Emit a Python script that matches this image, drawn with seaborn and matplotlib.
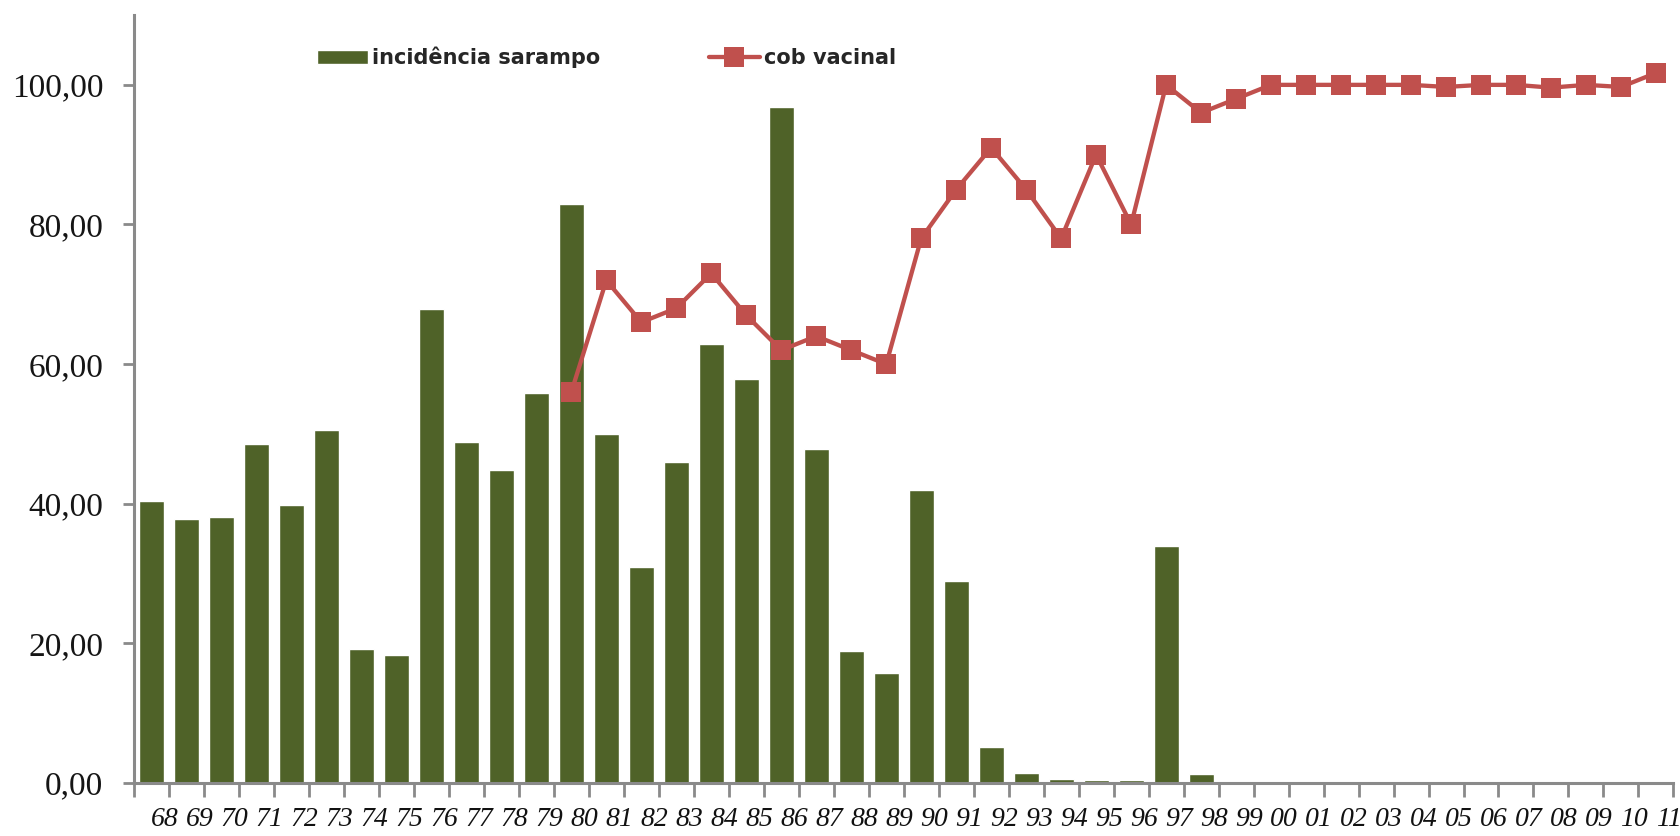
import numpy as np
import pandas as pd
import matplotlib
matplotlib.use("Agg")
import matplotlib.pyplot as plt
import seaborn as sns

# Years (two-digit labels) 1968-2011
anos = ["68", "69", "70", "71", "72", "73", "74", "75", "76", "77", "78", "79",
        "80", "81", "82", "83", "84", "85", "86", "87", "88", "89", "90", "91",
        "92", "93", "94", "95", "96", "97", "98", "99", "00", "01", "02", "03",
        "04", "05", "06", "07", "08", "09", "10", "11"]

# Measles incidence per year
incidencia = [40.4, 37.8, 38.1, 48.6, 39.8, 50.5, 19.2, 18.4, 67.9, 48.9, 44.9, 55.9,
              83.0, 50.0, 30.9, 46.0, 62.9, 57.9, 96.9, 47.9, 18.9, 15.8, 41.9, 28.9,
              5.2, 1.5, 0.6, 0.5, 0.4, 33.9, 1.3, 0.2, 0.0, 0.0, 0.0, 0.0,
              0.0, 0.0, 0.0, 0.0, 0.0, 0.0, 0.0, 0.0]

# Vaccination coverage (starts in 1980)
cob_vacinal = [np.nan] * 12 + [56.0, 72.0, 66.0, 68.0, 73.0, 67.0, 62.0, 64.0, 62.0, 60.0,
                               78.0, 85.0, 91.0, 85.0, 78.0, 90.0, 80.0, 100.0, 96.0, 98.0,
                               100.0, 100.0, 100.0, 100.0, 100.0, 99.7, 100.0, 100.0, 99.6,
                               100.0, 99.7, 101.7]

y_ticks = [0, 20, 40, 60, 80, 100]

GREEN = "#4F6228"
RED = "#C0504D"
AXIS_GREY = "#8a8a8a"

df = pd.DataFrame({"ano": anos, "incidencia": incidencia, "cob": cob_vacinal})
df["pos"] = np.arange(len(df))
dfc = df.dropna(subset=["cob"])

sns.set_style("white")
plt.rcParams["font.family"] = ["Liberation Serif", "DejaVu Serif"]

fig = plt.figure(figsize=(16.81, 8.36), dpi=100)
ax = fig.add_axes([0.0797, 0.0634, 0.9158, 0.9186])

sns.barplot(data=df, x="ano", y="incidencia", order=anos, color=GREEN,
            saturation=1, width=0.71, errorbar=None, ax=ax,
            label="incidência sarampo", zorder=2)

sns.lineplot(data=dfc, x="pos", y="cob", color=RED, linewidth=3.1,
             marker="s", markersize=14.4, markeredgewidth=0,
             label="cob vacinal", ax=ax, sort=False, zorder=3)

ax.set_xlim(-0.5, len(anos) - 0.5)
ax.set_ylim(0, 110)
ax.set_xlabel("")
ax.set_ylabel("")

# Year labels sit slightly right of each bar; tick marks between categories
ax.set_xticks(np.arange(len(anos)) + 0.37)
ax.set_xticklabels(anos, fontsize=20, style="italic", color="#111111")
ax.set_xticks(np.arange(-0.5, len(anos), 1.0), minor=True)
ax.tick_params(axis="x", which="major", length=0, pad=17)
ax.tick_params(axis="x", which="minor", length=10, width=2, color=AXIS_GREY,
               direction="out", bottom=True)

ax.set_yticks(y_ticks)
ax.set_yticklabels([f"{v:.2f}".replace(".", ",") for v in y_ticks],
                   fontsize=24, color="#151515")
ax.tick_params(axis="y", which="major", length=8, width=2, color=AXIS_GREY,
               direction="out", left=True, pad=14)

for side in ("top", "right"):
    ax.spines[side].set_visible(False)
for side in ("left", "bottom"):
    ax.spines[side].set_color(AXIS_GREY)
    ax.spines[side].set_linewidth(2.2)

handles, labels = ax.get_legend_handles_labels()
order = [labels.index("incidência sarampo"), labels.index("cob vacinal")]
handles = [handles[i] for i in order]
labels = [labels[i] for i in order]
if ax.get_legend() is not None:
    ax.get_legend().remove()

fig.legend(handles, labels, ncol=2, loc="center left",
           bbox_to_anchor=(0.1886, 0.931), frameon=False,
           prop={"family": ["DejaVu Sans"], "weight": "bold", "size": 15},
           handlelength=2.45, handleheight=0.63, handletextpad=0.2,
           columnspacing=5.2, borderpad=0, borderaxespad=0)

fig.savefig("out.png", dpi=100, facecolor="white")
